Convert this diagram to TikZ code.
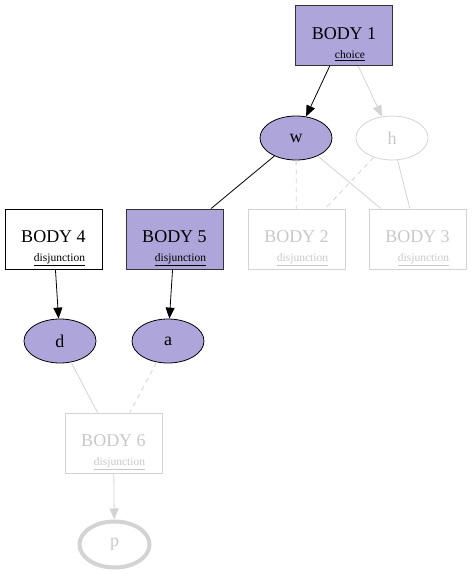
\documentclass[tikz,border=0pt]{standalone}
\usepackage{fontspec}
\setmainfont{Liberation Serif}
\usepackage{xcolor}
\usepackage{tikz}
\usetikzlibrary{shapes.geometric}
\usetikzlibrary{arrows.meta}
\definecolor{lila}{HTML}{AEA5DA}
\definecolor{blass}{HTML}{D3D3D3}
\definecolor{blasstext}{HTML}{C8C8C8}
\newcommand{\Gross}{\fontsize{18}{19}\selectfont}
\newcommand{\Klein}{\fontsize{11.5}{12}\selectfont}
\newcommand{\Koerper}[2]{\rule{0pt}{30pt}#1\\[0pt]\hspace*{12pt}{\Klein\underline{#2}}}
\tikzset{
  Body/.style={draw, rectangle, line width=1pt, minimum width=97pt, minimum height=60pt,
    inner sep=0pt, align=center, font=\Gross}, % Regelkoerper
  Atom/.style={draw, ellipse, line width=0.8pt, minimum width=72pt, minimum height=44pt,
    inner sep=0pt, font=\Gross}, % Atome
  Aktiv/.style={fill=lila},
  Blass/.style={draw=blass, text=blasstext},
  Kante/.style={line width=0.8pt}, % fuer Verbindungen
  Pfeil/.style={Kante,->}, % fuer Pfeile
  BKante/.style={Kante,blass},
  BPfeil/.style={Pfeil,blass},
  Strich/.style={dash pattern=on 5pt off 4pt} % gestrichelt
}

\begin{document}
\begin{tikzpicture}[x=1pt, y=-1pt,
>={Triangle[length=11pt,width=9pt]} % Voreinstellung fuer Pfeilspitzen
]
\useasboundingbox (0,0) rectangle (472,574);

%Koerper
\node[Body, Aktiv, draw=black!80] (B1) at (344,35.5) {\Koerper{BODY 1}{choice}};
\node[Body, Blass] (B2) at (296.5,239) {\Koerper{BODY 2}{disjunction}};
\node[Body, Blass] (B3) at (417.5,239) {\Koerper{BODY 3}{disjunction}};
\node[Body] (B4) at (53.5,239) {\Koerper{BODY 4}{disjunction}};
\node[Body, Aktiv, draw=black!80] (B5) at (174.5,239) {\Koerper{BODY 5}{disjunction}};
\node[Body, Blass] (B6) at (113.5,443) {\Koerper{BODY 6}{disjunction}};

%Atome
\node[Atom, Aktiv] (w) at (296,138) {w};
\node[Atom, Blass] (h) at (392,138) {h};
\node[Atom, Aktiv] (d) at (60,341) {d};
\node[Atom, Aktiv] (a) at (168,341) {a};
\node[Atom, Blass, line width=4pt, minimum width=70pt, minimum height=46pt] (p) at (114.5,544.5) {p};

%Pfeile
\draw[Pfeil] (B1) -- (w);
\draw[BPfeil] (B1) -- (h);
\draw[Pfeil] (B4) -- (d);
\draw[Pfeil] (B5) -- (a);
\draw[BPfeil] (B6) -- (p);

%Verbindungen
\draw[Kante] (w) -- (B5);
\draw[BKante, Strich] (w) -- (B2);
\draw[BKante] (w) -- (B3);
\draw[BKante, Strich] (h) -- (B2);
\draw[BKante] (h) -- (B3);
\draw[BKante] (d) -- (B6);
\draw[BKante, Strich] (a) -- (B6);

\end{tikzpicture}
\end{document}
